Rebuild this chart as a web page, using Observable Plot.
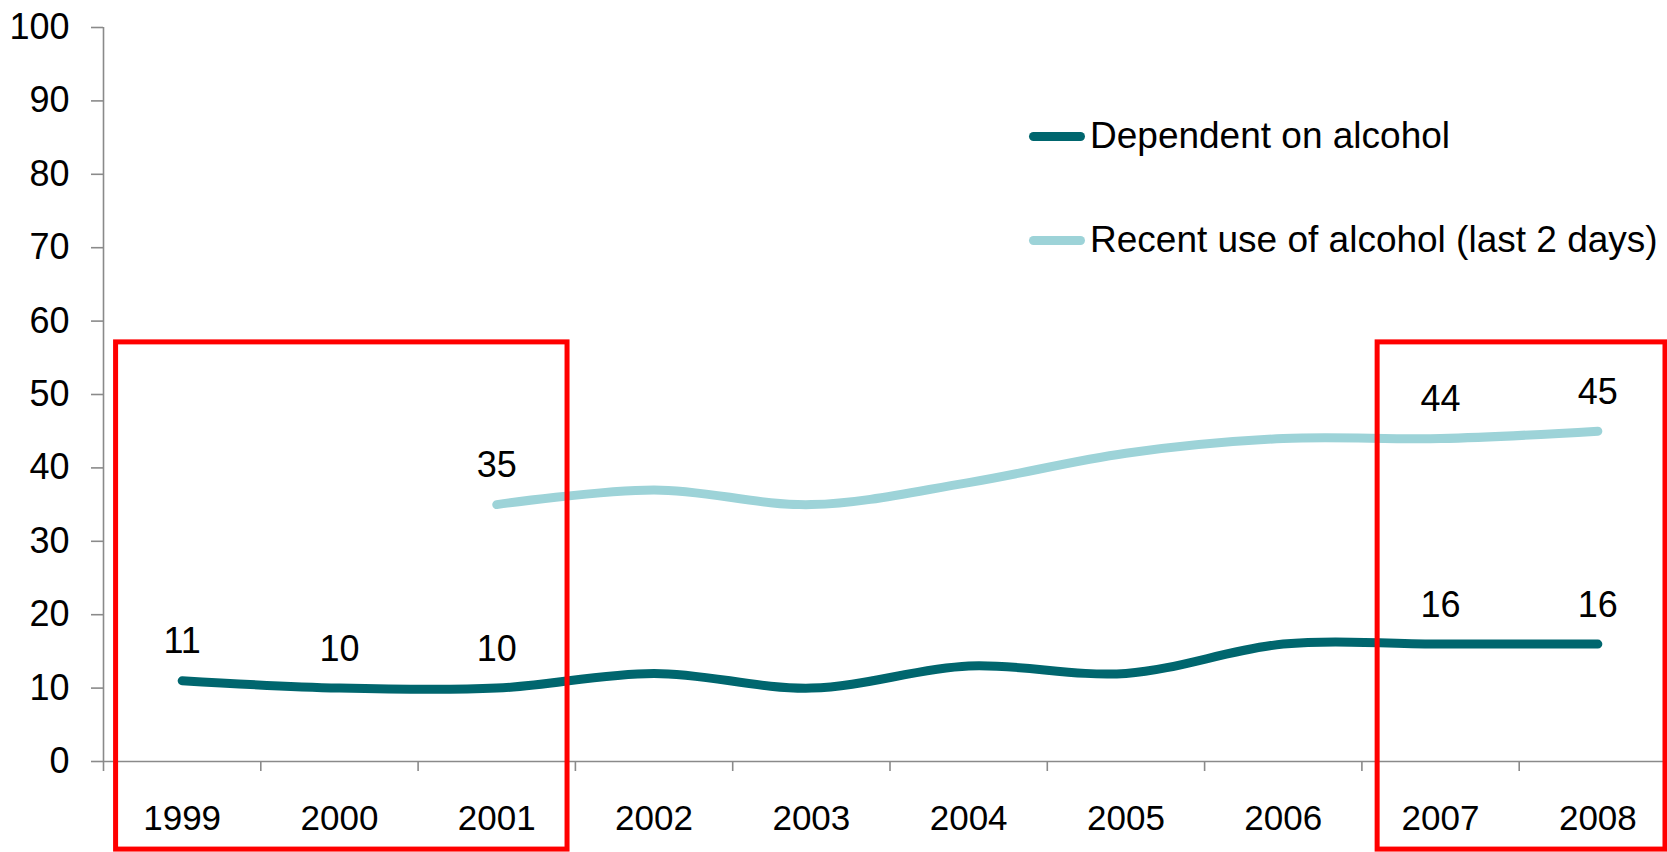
<!DOCTYPE html>
<html>
<head>
<meta charset="utf-8">
<script src="https://cdn.jsdelivr.net/npm/d3@7"></script>
<script src="https://cdn.jsdelivr.net/npm/@observablehq/plot@0.6"></script>
<style>
  html, body { margin: 0; padding: 0; background: #fff; overflow: hidden; }
  #wrap { position: relative; width: 1667px; height: 852px; font-family: "Liberation Sans", Arial, sans-serif; }
  #wrap svg { overflow: hidden; }
  g[aria-label="y-axis tick"], g[aria-label="x-axis tick"] { stroke: #8a8a8a; stroke-width: 1.6px; }
  .legend { position: absolute; left: 1029px; display: flex; align-items: center; height: 40px; line-height: 40px; font-size: 37px; color: #000; white-space: nowrap; }
  .legend .sw { display: inline-block; width: 56px; height: 9px; border-radius: 4.5px; margin-right: 5px; }
</style>
</head>
<body>
<div id="wrap"></div>
<script>
const years = [1999, 2000, 2001, 2002, 2003, 2004, 2005, 2006, 2007, 2008];
const dependent = [11, 10, 10, 12, 10, 13, 12, 16, 16, 16];
const recentYears = [2001, 2002, 2003, 2004, 2005, 2006, 2007, 2008];
const recent = [35, 37, 35, 38, 42, 44, 44, 45];
const dependentLabelYears = [1999, 2000, 2001, 2007, 2008];
const recentLabelYears = [2001, 2007, 2008];
const yTicks = [0, 10, 20, 30, 40, 50, 60, 70, 80, 90, 100];
const seriesNames = ["Dependent on alcohol", "Recent use of alcohol (last 2 days)"];
const seriesColors = ["#00666e", "#9dd3d8"];
// highlight frames (in year / value units)
const highlightX1 = [1998.58, 2006.6];
const highlightX2 = [2001.45, 2008.43];
const highlightY1 = [-12, -12];
const highlightY2 = [57.1, 57.1];

const depData = years.map((y, i) => ({year: y, value: dependent[i]}));
const recData = recentYears.map((y, i) => ({year: y, value: recent[i]}));
const depLabels = depData.filter(d => dependentLabelYears.includes(d.year));
const recLabels = recData.filter(d => recentLabelYears.includes(d.year));
const boundaries = years.map(y => y - 0.5).concat([years[years.length - 1] + 0.5]);
const frames = highlightX1.map((x1, i) => ({x1, x2: highlightX2[i], y1: highlightY1[i], y2: highlightY2[i]}));

const font = "'Liberation Sans', Arial, sans-serif";

const chart = Plot.plot({
  width: 1667,
  height: 852,
  marginTop: 27,
  marginBottom: 91,
  marginLeft: 103,
  marginRight: 0,
  style: {fontFamily: font, fontSize: "35px", color: "#000", background: "#fff"},
  x: {domain: [1998.5, 2008.5], range: [103, 1676]},
  y: {domain: [0, 100]},
  marks: [
    Plot.axisY({ticks: yTicks, tickSize: 12, tickPadding: 22, label: null, fontSize: 36}),
    Plot.axisX({ticks: boundaries, tickSize: 10, tickFormat: () => "", label: null}),
    Plot.axisX({ticks: years, tickSize: 0, tickPadding: 44, tickFormat: d => String(d), label: null, fontSize: 35}),
    Plot.ruleY([0], {stroke: "#8a8a8a", strokeWidth: 1.6}),
    Plot.ruleX([boundaries[0]], {y1: 0, y2: 100, stroke: "#8a8a8a", strokeWidth: 1.6}),
    Plot.line(recData, {x: "year", y: "value", stroke: seriesColors[1], strokeWidth: 9, curve: "catmull-rom", strokeLinecap: "round"}),
    Plot.line(depData, {x: "year", y: "value", stroke: seriesColors[0], strokeWidth: 9, curve: "catmull-rom", strokeLinecap: "round"}),
    Plot.text(depLabels, {x: "year", y: "value", text: d => String(d.value), dy: -39, fill: "#000", fontSize: 36}),
    Plot.text(recLabels, {x: "year", y: "value", text: d => String(d.value), dy: -39, fill: "#000", fontSize: 36}),
    Plot.rect(frames, {x1: "x1", x2: "x2", y1: "y1", y2: "y2", fill: "none", stroke: "#ff0000", strokeWidth: 5})
  ]
});

const wrap = document.getElementById("wrap");
wrap.appendChild(chart);

const legendTops = [116, 220];
seriesNames.forEach((name, i) => {
  const row = document.createElement("div");
  row.className = "legend";
  row.style.top = legendTops[i] + "px";
  const sw = document.createElement("span");
  sw.className = "sw";
  sw.style.background = seriesColors[i];
  const t = document.createElement("span");
  t.textContent = name;
  row.appendChild(sw);
  row.appendChild(t);
  wrap.appendChild(row);
});
</script>
</body>
</html>
